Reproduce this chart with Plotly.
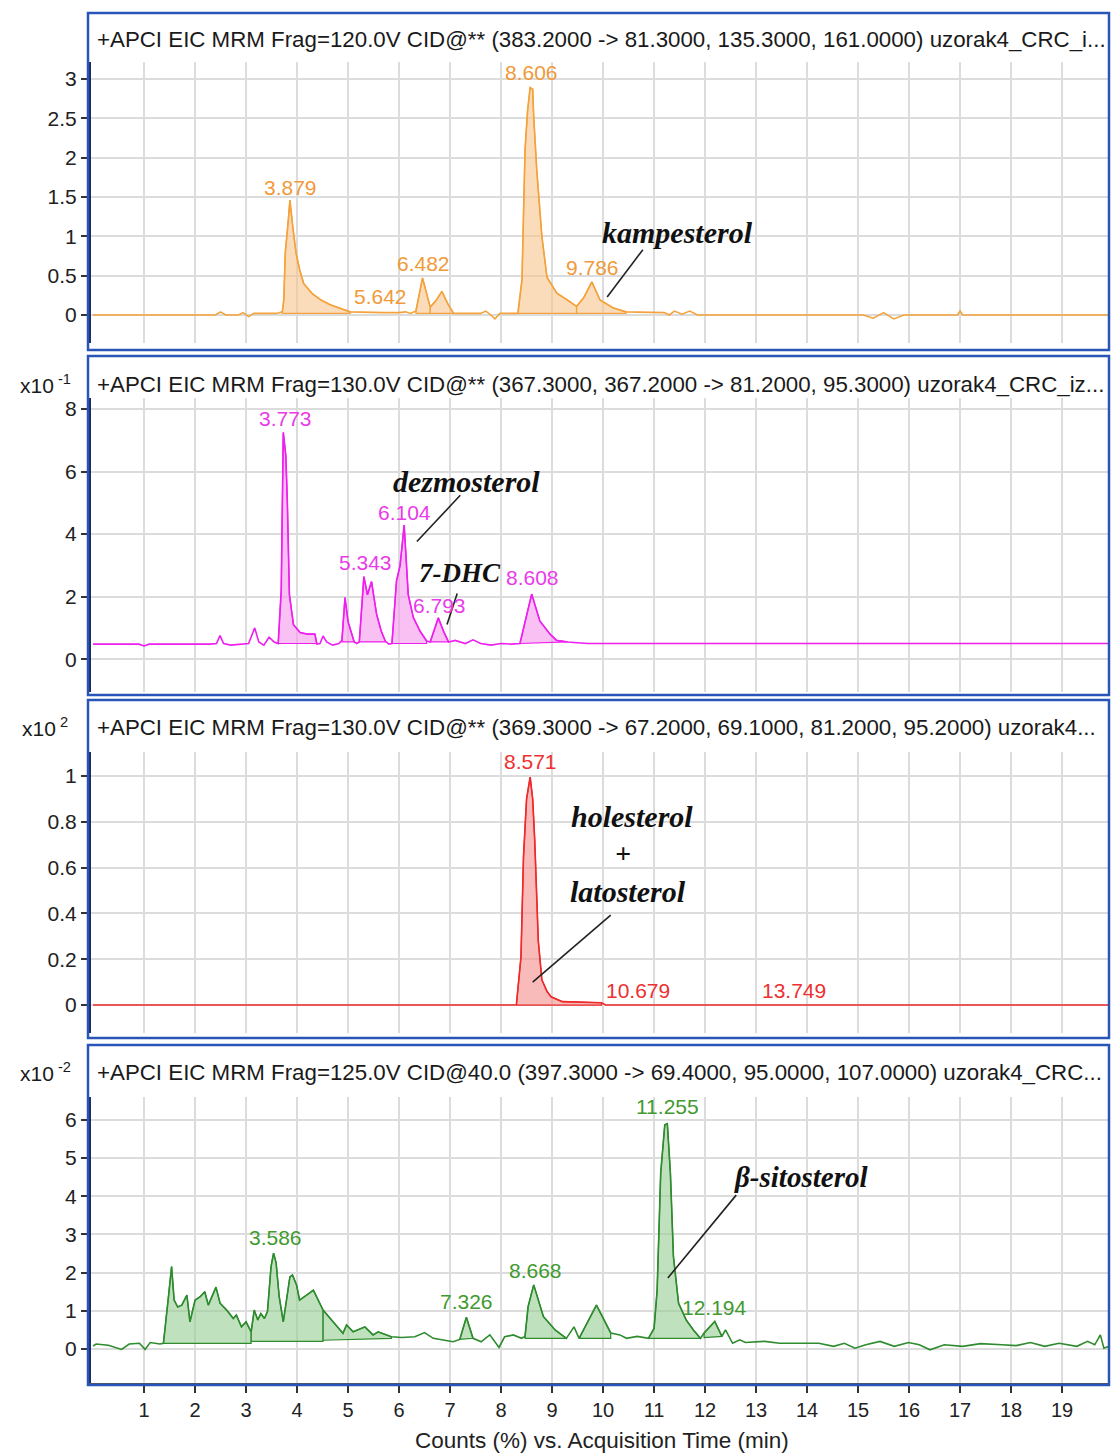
import plotly.graph_objects as go

# ---------------- DATA ----------------
# Panel 1 (orange) : +APCI EIC MRM 383.2
t1 = [0.0, 2.4, 2.5, 2.6, 2.85, 2.94, 3.05, 3.15, 3.6, 3.71, 3.74, 3.77, 3.83, 3.86, 3.92, 3.98, 4.05, 4.13,
      4.3, 4.47, 4.65, 4.83, 5.04, 5.7, 6.0, 6.13, 6.22, 6.33, 6.46, 6.53, 6.61, 6.72, 6.84, 6.95, 7.07,
      7.6, 7.7, 7.8, 7.88, 7.98, 8.33, 8.41, 8.47, 8.52, 8.57, 8.62, 8.64, 8.70, 8.80, 8.90, 9.09, 9.35,
      9.48, 9.62, 9.78, 9.94, 10.2, 10.45, 11.2, 11.3, 11.4, 11.55, 11.7, 11.85, 12.0, 15.1, 15.3, 15.5,
      15.7, 15.9, 16.0, 16.95, 17.0, 17.05, 19.9]
y1 = [0.0, 0.0, 0.04, 0.0, 0.0, 0.03, -0.02, 0.02, 0.02, 0.04, 0.19, 0.8, 1.2, 1.46, 1.1, 0.79, 0.58, 0.40,
      0.27, 0.19, 0.13, 0.09, 0.04, 0.03, 0.03, 0.04, 0.02, 0.05, 0.47, 0.3, 0.1, 0.18, 0.30, 0.15, 0.02,
      0.02, 0.05, 0.0, -0.05, 0.02, 0.02, 0.45, 2.10, 2.6, 2.89, 2.87, 2.52, 1.84, 1.0, 0.48, 0.28, 0.17,
      0.11, 0.22, 0.42, 0.19, 0.09, 0.04, 0.03, 0.0, 0.05, 0.01, 0.05, 0.0, 0.0, 0.0, -0.04, 0.03,
      -0.05, 0.0, 0.0, 0.0, 0.05, 0.0, 0.0]
# integrated regions: (start, end, baseline at start, baseline at end)
r1 = [(3.71, 5.04, 0.02, 0.02), (6.33, 6.61, 0.02, 0.02), (6.61, 7.07, 0.02, 0.02),
      (8.33, 9.48, 0.02, 0.02), (9.48, 10.45, 0.02, 0.02)]
lab1 = [(3.879, "3.879"), (8.606, "8.606"), (6.482, "6.482"), (5.642, "5.642"), (9.786, "9.786")]
lab1_y = [1.62, 3.08, 0.66, 0.24, 0.60]

# Panel 2 (magenta) : 367.3
t2 = [0.0, 0.9, 1.0, 1.1, 2.3, 2.42, 2.49, 2.56, 2.7, 3.05, 3.17, 3.25, 3.35, 3.45, 3.55, 3.63, 3.69, 3.73,
      3.78, 3.81, 3.85, 3.93, 4.06, 4.2, 4.35, 4.39, 4.45, 4.51, 4.58, 4.7, 4.82, 4.88, 4.94, 5.0, 5.12,
      5.17, 5.22, 5.31, 5.38, 5.46, 5.56, 5.65, 5.73, 5.8, 5.86, 5.95, 6.02, 6.10, 6.18, 6.28, 6.41, 6.54,
      6.61, 6.77, 6.87, 6.97, 7.1, 7.3, 7.45, 7.6, 7.8, 8.0, 8.2, 8.37, 8.6, 8.76, 8.96, 9.09, 9.3, 9.7, 19.9]
y2 = [0.48, 0.48, 0.42, 0.48, 0.48, 0.5, 0.75, 0.5, 0.45, 0.5, 1.0, 0.55, 0.45, 0.7, 0.55, 0.5, 2.2, 7.25,
      6.5, 5.0, 2.06, 1.1, 0.85, 0.8, 0.8, 0.48, 0.5, 0.74, 0.55, 0.45, 0.5, 0.6, 1.97, 1.2, 0.55,
      0.5, 0.55, 2.64, 2.06, 2.48, 1.43, 0.9, 0.58, 0.48, 0.5, 2.5, 3.0, 4.29, 2.06, 1.33, 0.9, 0.58,
      0.55, 1.32, 0.9, 0.55, 0.6, 0.5, 0.62, 0.5, 0.45, 0.5, 0.48, 0.5, 2.08, 1.22, 0.8, 0.6, 0.55, 0.5, 0.5]
r2 = [(3.63, 4.39, 0.5, 0.5), (4.88, 5.12, 0.55, 0.55), (5.22, 5.73, 0.55, 0.55),
      (5.86, 6.54, 0.5, 0.5), (6.61, 6.97, 0.55, 0.55), (8.37, 9.3, 0.5, 0.55)]
lab2 = [(3.773, "3.773"), (5.343, "5.343"), (6.104, "6.104"), (6.793, "6.793"), (8.608, "8.608")]
lab2_y = [7.7, 3.1, 4.7, 1.7, 2.6]

# Panel 3 (red) : 369.3
t3 = [0.0, 8.30, 8.39, 8.44, 8.50, 8.57, 8.62, 8.66, 8.73, 8.80, 8.9, 8.98, 9.2, 9.97, 10.05, 19.9]
y3 = [0.0, 0.0, 0.21, 0.65, 0.9, 0.995, 0.9, 0.72, 0.28, 0.11, 0.06, 0.036, 0.015, 0.01, 0.0, 0.0]
r3 = [(8.30, 9.97, 0.0, 0.0)]
lab3 = [(8.571, "8.571"), (10.679, "10.679"), (13.749, "13.749")]
lab3_y = [1.064, 0.064, 0.064]

# Panel 4 (green) : 397.3
t4 = [0.0, 0.06, 0.3, 0.56, 0.71, 0.91, 1.02, 1.12, 1.31, 1.38, 1.48, 1.54, 1.59, 1.66, 1.74, 1.84, 1.9,
      2.0, 2.1, 2.19, 2.26, 2.32, 2.41, 2.49, 2.62, 2.75, 2.81, 2.91, 3.0, 3.1, 3.16, 3.23, 3.29, 3.36,
      3.42, 3.49, 3.54, 3.59, 3.65, 3.73, 3.79, 3.86, 3.91, 3.99, 4.05, 4.32, 4.51, 4.71, 4.9, 4.97,
      5.1, 5.33, 5.49, 5.59, 5.85, 6.05, 6.31, 6.5, 6.67, 7.06, 7.19, 7.32, 7.45, 7.61, 7.78, 7.96,
      8.07, 8.24, 8.4, 8.47, 8.53, 8.64, 8.83, 9.06, 9.28, 9.43, 9.53, 9.87, 10.15, 10.33, 10.46,
      10.67, 10.89, 11.0, 11.06, 11.13, 11.21, 11.26, 11.32, 11.38, 11.48, 11.63, 11.77, 11.91, 11.98,
      12.19, 12.33, 12.4, 12.54, 12.68, 12.79, 13.17, 13.46, 13.88, 14.23, 14.52, 14.73, 14.94, 15.15,
      15.43, 15.71, 15.99, 16.2, 16.41, 16.69, 17.05, 17.4, 17.82, 18.1, 18.38, 18.66, 18.94, 19.29,
      19.5, 19.64, 19.75, 19.82, 19.92]
y4 = [0.08, 0.13, 0.1, -0.01, 0.13, 0.15, -0.01, 0.17, 0.13, 0.15, 1.37, 2.16, 1.28, 1.1, 1.15, 1.41, 0.71,
      1.28, 1.37, 1.5, 1.15, 1.33, 1.62, 1.2, 1.02, 0.8, 0.89, 0.58, 0.71, 0.45, 1.02, 0.76, 0.93, 0.8,
      0.98, 2.16, 2.51, 2.25, 1.37, 0.71, 1.28, 1.89, 1.94, 1.68, 1.28, 1.54, 1.02, 0.71, 0.41, 0.63,
      0.45, 0.58, 0.37, 0.45, 0.32, 0.3, 0.32, 0.43, 0.28, 0.19, 0.25, 0.83, 0.28, 0.19, 0.37, 0.04,
      0.32, 0.37, 0.28, 0.33, 1.11, 1.68, 0.85, 0.5, 0.28, 0.58, 0.28, 1.15, 0.42, 0.37, 0.28,
      0.33, 0.28, 0.54, 1.54, 4.61, 5.87, 5.9, 4.61, 2.42, 1.2, 0.76, 0.5, 0.28, 0.42,
      0.72, 0.33, 0.5, 0.15, 0.24, 0.17, 0.2, 0.15, 0.15, 0.15, 0.07, 0.15, 0.02, 0.11,
      0.2, 0.07, 0.17, 0.11, -0.02, 0.11, 0.07, 0.14, 0.11, 0.09, 0.17, 0.07, 0.15, 0.07,
      0.2, 0.11, 0.37, 0.02, 0.07]
r4 = [(1.38, 3.1, 0.15, 0.15), (3.1, 4.51, 0.2, 0.2), (4.51, 5.85, 0.23, 0.28), (7.19, 7.45, 0.25, 0.28),
      (8.47, 9.28, 0.28, 0.28), (9.53, 10.15, 0.28, 0.28), (10.89, 11.91, 0.28, 0.28), (11.98, 12.33, 0.3, 0.33)]
lab4 = [(3.586, "3.586"), (7.326, "7.326"), (8.668, "8.668"), (11.255, "11.255"), (12.194, "12.194")]
lab4_y = [2.93, 1.25, 2.06, 6.35, 1.08]

titles = [
    "+APCI EIC MRM Frag=120.0V CID@** (383.2000 -> 81.3000, 135.3000, 161.0000) uzorak4_CRC_i...",
    "+APCI EIC MRM Frag=130.0V CID@** (367.3000, 367.2000 -> 81.2000, 95.3000) uzorak4_CRC_iz...",
    "+APCI EIC MRM Frag=130.0V CID@** (369.3000 -> 67.2000, 69.1000, 81.2000, 95.2000) uzorak4...",
    "+APCI EIC MRM Frag=125.0V CID@40.0 (397.3000 -> 69.4000, 95.0000, 107.0000) uzorak4_CRC...",
]
exponents = ["", "x10<sup> -1</sup>", "x10<sup> 2</sup>", "x10<sup> -2</sup>"]
# (name, text x, text y, leader x0, y0, x1, y1, font size)
compounds = [
    [("kampesterol", 11.45, 1.05, 10.78, 0.83, 10.08, 0.23, 30)],
    [("dezmosterol", 7.33, 5.67, 7.2, 5.24, 6.35, 3.76, 30), ("7-DHC", 7.19, 2.76, 7.14, 2.1, 6.94, 1.11, 27)],
    [("holesterol", 10.57, 0.824, None, None, None, None, 30),
     ("+", 10.39, 0.664, None, None, None, None, 28),
     ("latosterol", 10.49, 0.494, 10.15, 0.393, 8.62, 0.10, 30)],
    [("β-sitosterol", 13.88, 4.5, 12.61, 4.03, 11.27, 1.86, 29)],
]
x_ticks = list(range(1, 20))
y_ticks = [[0, 0.5, 1, 1.5, 2, 2.5, 3], [0, 2, 4, 6, 8], [0, 0.2, 0.4, 0.6, 0.8, 1], [0, 1, 2, 3, 4, 5, 6]]

# ---------------- STYLE / LAYOUT ----------------
W, H = 1111, 1453
line_cols = ["#F4A23C", "#EE1FEE", "#EE2A2A", "#2E8B2E"]
fill_cols = ["rgba(249,196,140,0.6)", "rgba(245,150,235,0.6)", "rgba(245,140,140,0.6)", "rgba(150,205,145,0.6)"]
label_cols = ["#F09A3A", "#E93BE9", "#EE3030", "#3F9A2F"]
yranges = [[-0.356, 3.216], [-1.05, 8.35], [-0.122, 1.105], [-0.89, 6.6]]
plot_px = [(62, 343), (398, 692), (752, 1033), (1097, 1383)]
box_px = [(13, 350), (356, 695), (700, 1038), (1045, 1385)]
title_py = [40, 384, 727, 1072]
x_dom = [91 / W, 1108 / W]
x_range = [-0.04, 19.9]

def py2p(py):
    return 1 - py / H

series = [(t1, y1, r1), (t2, y2, r2), (t3, y3, r3), (t4, y4, r4)]
labels = [(lab1, lab1_y), (lab2, lab2_y), (lab3, lab3_y), (lab4, lab4_y)]

fig = go.Figure()
shapes = []
annotations = []
font_sans = "Liberation Sans, Arial, sans-serif"
font_serif = "Liberation Serif, Times New Roman, serif"

for i in range(4):
    xa = "x" if i == 0 else f"x{i+1}"
    ya = "y" if i == 0 else f"y{i+1}"
    t, y, regions = series[i]
    # filled integration regions
    for (s, e, bs, be) in regions:
        px_ = [tt for tt in t if s - 1e-9 <= tt <= e + 1e-9]
        py_ = [yy for tt, yy in zip(t, y) if s - 1e-9 <= tt <= e + 1e-9]
        fx = px_ + [e, s, px_[0]]
        fy = py_ + [be, bs, py_[0]]
        fig.add_trace(go.Scatter(x=fx, y=fy, mode="lines", fill="toself", fillcolor=fill_cols[i],
                                 line=dict(color=line_cols[i], width=1.2), xaxis=xa, yaxis=ya,
                                 hoverinfo="skip", showlegend=False))
    fig.add_trace(go.Scatter(x=t, y=y, mode="lines", line=dict(color=line_cols[i], width=1.6),
                             xaxis=xa, yaxis=ya, showlegend=False))

    top, bot = plot_px[i]
    ax_x = dict(domain=x_dom, range=x_range, tickvals=x_ticks, showgrid=True, gridcolor="#DCDCDC",
                gridwidth=1.5, zeroline=False, anchor=ya, showline=False,
                showticklabels=(i == 3))
    if i == 3:
        ax_x.update(ticks="outside", ticklen=8, tickwidth=2, tickcolor="#333333", showline=True,
                    linecolor="#555555", linewidth=2,
                    tickfont=dict(family=font_sans, size=20, color="#222222"))
    else:
        ax_x.update(ticks="")
    ax_y = dict(domain=[py2p(bot), py2p(top)], range=yranges[i], tickvals=y_ticks[i], showgrid=True,
                gridcolor="#DCDCDC", gridwidth=1.5, zeroline=False, anchor=xa, showline=True,
                linecolor="#1C2C66", linewidth=4, ticks="outside", ticklen=6, tickwidth=1.5,
                tickcolor="#333333", tickfont=dict(family=font_sans, size=21, color="#222222"))
    key_x = "xaxis" if i == 0 else f"xaxis{i+1}"
    key_y = "yaxis" if i == 0 else f"yaxis{i+1}"
    fig.update_layout({key_x: ax_x, key_y: ax_y})

    # panel box
    bt, bb = box_px[i]
    shapes.append(dict(type="rect", xref="paper", yref="paper", x0=88 / W, x1=1109 / W,
                       y0=py2p(bb), y1=py2p(bt), line=dict(color="#2A55B8", width=2.5)))
    # title
    annotations.append(dict(xref="paper", yref="paper", x=95 / W, y=py2p(title_py[i]), text=titles[i],
                            showarrow=False, xanchor="left", yanchor="middle",
                            font=dict(family=font_sans, size=22.3, color="#1A1A1A")))
    if exponents[i]:
        annotations.append(dict(xref="paper", yref="paper", x=45 / W, y=py2p(title_py[i]), text=exponents[i],
                                showarrow=False, xanchor="center", yanchor="middle",
                                font=dict(family=font_sans, size=21, color="#1A1A1A")))
    # peak labels
    labs, labys = labels[i]
    for (xv, txt), yv in zip(labs, labys):
        annotations.append(dict(xref=xa, yref=ya, x=xv, y=yv, text=txt, showarrow=False,
                                xanchor="center", yanchor="middle",
                                font=dict(family=font_sans, size=21, color=label_cols[i])))
    # compound names with leader lines
    for (name, nx, ny, lx0, ly0, lx1, ly1, fs) in compounds[i]:
        annotations.append(dict(xref=xa, yref=ya, x=nx, y=ny, text=f"<b><i>{name}</i></b>", showarrow=False,
                                xanchor="center", yanchor="middle",
                                font=dict(family=font_serif, size=fs, color="#111111")))
        if lx0 is not None:
            shapes.append(dict(type="line", xref=xa, yref=ya, x0=lx0, y0=ly0, x1=lx1, y1=ly1,
                               line=dict(color="#222222", width=1.6)))

annotations.append(dict(xref="paper", yref="paper", x=602 / W, y=py2p(1440),
                        text="Counts (%) vs. Acquisition Time (min)", showarrow=False,
                        xanchor="center", yanchor="middle",
                        font=dict(family=font_sans, size=22.5, color="#222222")))

fig.update_layout(width=W, height=H, margin=dict(l=0, r=0, t=0, b=0), plot_bgcolor="white",
                  paper_bgcolor="white", shapes=shapes, annotations=annotations, showlegend=False)

fig.write_html("out.html")
